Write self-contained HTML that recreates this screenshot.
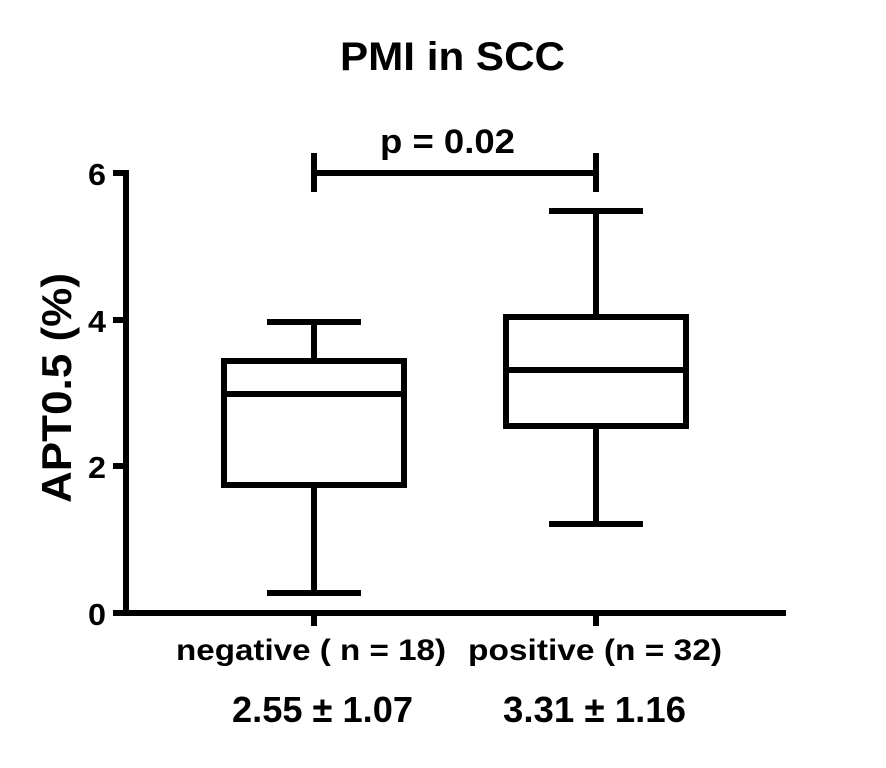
<!DOCTYPE html>
<html><head><meta charset="utf-8"><style>body{margin:0;background:#fff}</style></head><body>
<svg width="886" height="763" xmlns="http://www.w3.org/2000/svg" font-family="Liberation Sans, Arial, sans-serif" font-weight="bold">
<rect width="886" height="763" fill="#fff"/>
<text x="340" y="70" font-size="40" textLength="225" lengthAdjust="spacingAndGlyphs">PMI in SCC</text>
<text x="380" y="153" font-size="34" textLength="135" lengthAdjust="spacingAndGlyphs">p = 0.02</text>
<g stroke="#000" stroke-width="6" fill="none">
<line x1="126" y1="170" x2="126" y2="616"/>
<line x1="123" y1="613" x2="786" y2="613"/>
<line x1="113" y1="173" x2="126" y2="173"/>
<line x1="113" y1="320" x2="126" y2="320"/>
<line x1="113" y1="466" x2="126" y2="466"/>
<line x1="113" y1="613" x2="126" y2="613"/>
<line x1="314" y1="613" x2="314" y2="626"/>
<line x1="596" y1="613" x2="596" y2="626"/>
<line x1="314" y1="173" x2="596" y2="173"/>
<line x1="314" y1="153" x2="314" y2="192"/>
<line x1="596" y1="153" x2="596" y2="192"/>
<rect x="224" y="361" width="180" height="124"/>
<line x1="224" y1="394" x2="404" y2="394"/>
<line x1="314" y1="322" x2="314" y2="361"/>
<line x1="314" y1="485" x2="314" y2="593"/>
<line x1="267" y1="322" x2="361" y2="322"/>
<line x1="267" y1="593" x2="361" y2="593"/>
<rect x="506" y="317" width="180" height="109"/>
<line x1="506" y1="370" x2="686" y2="370"/>
<line x1="596" y1="211" x2="596" y2="317"/>
<line x1="596" y1="426" x2="596" y2="524"/>
<line x1="549" y1="211" x2="643" y2="211"/>
<line x1="549" y1="524" x2="643" y2="524"/>
</g>
<g font-size="31" text-anchor="end">
<text x="106" y="185" textLength="18" lengthAdjust="spacingAndGlyphs">6</text>
<text x="106" y="332" textLength="18" lengthAdjust="spacingAndGlyphs">4</text>
<text x="106" y="478" textLength="18" lengthAdjust="spacingAndGlyphs">2</text>
<text x="106" y="625" textLength="18" lengthAdjust="spacingAndGlyphs">0</text>
</g>
<text transform="translate(71,503) rotate(-90)" font-size="42" textLength="230" lengthAdjust="spacingAndGlyphs">APT0.5 (%)</text>
<text x="176" y="660" font-size="30" textLength="270" lengthAdjust="spacingAndGlyphs">negative ( n = 18)</text>
<text x="468" y="660" font-size="30" textLength="254" lengthAdjust="spacingAndGlyphs">positive (n = 32)</text>
<text x="232" y="722" font-size="36" textLength="181" lengthAdjust="spacingAndGlyphs">2.55 ± 1.07</text>
<text x="503" y="722" font-size="36" textLength="183" lengthAdjust="spacingAndGlyphs">3.31 ± 1.16</text>
</svg>
</body></html>
